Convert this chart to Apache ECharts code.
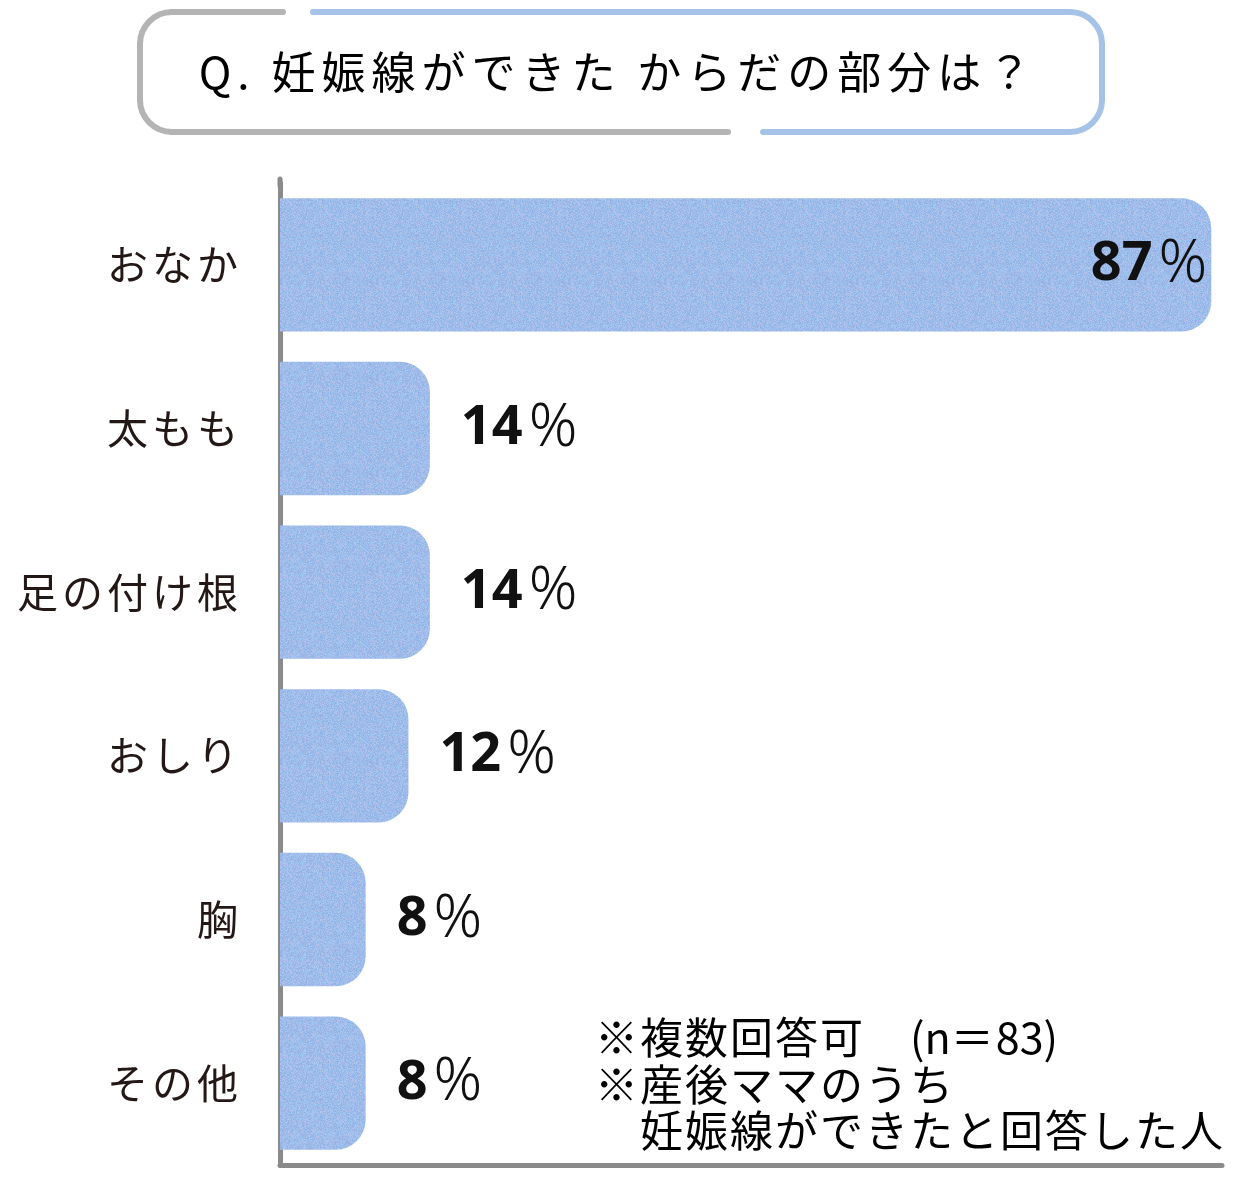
<!DOCTYPE html>
<html>
<head>
<meta charset="utf-8">
<script src="https://cdn.jsdelivr.net/npm/echarts@6/dist/echarts.min.js"></script>
<style>
  html, body { margin: 0; padding: 0; background: #fff; }
  #main { width: 1242px; height: 1180px; }
</style>
</head>
<body>
<div id="main"></div>
<script>
// data
var categories = ['おなか', '太もも', '足の付け根', 'おしり', '胸', 'その他'];
var values = [87, 14, 14, 12, 8, 8];
var titleText = 'Q. 妊娠線ができた からだの部分は？';
var noteLines = ['※複数回答可　(n＝83)', '※産後ママのうち', '　妊娠線ができたと回答した人'];

var ink = '#231815';
var jp = '"Noto Sans CJK JP", "Noto Sans", sans-serif';
var gray = '#b4b4b4';
var blue = '#a4c3e6';

// wraps every character in a rich token so padding works as letter spacing
// (ascii characters get the unpadded token "a")
function spaced(str) {
    return str.split('').map(function (ch) {
        return (ch.charCodeAt(0) < 128 ? '{a|' : '{s|') + ch + '}';
    }).join('');
}

// grainy fill for the bars (deterministic hash, just texture)
function makeGrain() {
    var c = document.createElement('canvas');
    c.width = 96; c.height = 96;
    var ctx = c.getContext('2d');
    var img = ctx.createImageData(96, 96);
    for (var i = 0; i < 96 * 96; i++) {
        var h = Math.sin(i * 12.9898 + 78.233) * 43758.5453;
        h = h - Math.floor(h);
        var h2 = Math.sin(i * 39.346 + 11.135) * 24634.6345;
        h2 = h2 - Math.floor(h2);
        var d = (h - 0.5) * 30;
        var t = (h2 - 0.5) * 24;
        img.data[i * 4] = 159 + d + t;
        img.data[i * 4 + 1] = 188 + d * 0.8 - t * 0.2;
        img.data[i * 4 + 2] = 234 + d * 0.4 - t * 0.3;
        img.data[i * 4 + 3] = 255;
    }
    ctx.putImageData(img, 0, 0);
    return c;
}
var grain = makeGrain();

function seg(x1, y1, x2, y2, col, w) {
    return { type: 'line', shape: { x1: x1, y1: y1, x2: x2, y2: y2 },
        style: { stroke: col, lineWidth: w || 6, lineCap: 'round' } };
}
function corner(cx, cy, a0, a1, col) {
    return { type: 'arc', shape: { cx: cx, cy: cy, r: 32, startAngle: a0, endAngle: a1, clockwise: true },
        style: { stroke: col, lineWidth: 6, fill: null } };
}
var PI = Math.PI;
var frame = [
    seg(172, 12, 283, 12, gray),
    corner(172, 44, PI, PI * 1.5, gray),
    seg(140, 44, 140, 100, gray),
    corner(172, 100, PI * 0.5, PI, gray),
    seg(172, 132, 728, 132, gray),
    seg(313, 12, 1070, 12, blue),
    corner(1070, 44, -PI * 0.5, 0, blue),
    seg(1102, 44, 1102, 100, blue),
    corner(1070, 100, 0, PI * 0.5, blue),
    seg(763, 132, 1070, 132, blue)
];

function noteText(y, str) {
    return {
        type: 'text', x: 595, y: y,
        style: {
            text: spaced(str), verticalAlign: 'middle',
            rich: {
                s: { fontSize: 43, fontFamily: jp, color: ink, padding: [0, 2, 0, 0] },
                a: { fontSize: 43, fontFamily: jp, color: ink }
            }
        }
    };
}

var myChart = echarts.init(document.getElementById('main'));

myChart.setOption({
    animation: false,
    backgroundColor: '#fff',
    grid: { left: 280, right: 20, top: 183, bottom: 15 },
    xAxis: {
        type: 'value',
        min: 0,
        max: 88,
        axisLine: { show: true, lineStyle: { color: '#8a8a8a', width: 5, cap: 'round' } },
        axisTick: { show: false },
        axisLabel: { show: false },
        splitLine: { show: false }
    },
    yAxis: {
        type: 'category',
        inverse: true,
        data: categories,
        axisLine: { show: true, onZero: false, lineStyle: { color: '#8a8a8a', width: 5, cap: 'round' } },
        axisTick: { show: false },
        axisLabel: {
            margin: 42,
            formatter: function (v) { return spaced(v); },
            rich: { s: { fontSize: 41, color: ink, fontFamily: jp, padding: [0, 0, 0, 4] } }
        }
    },
    series: [{
        type: 'bar',
        data: values.map(function (v, i) {
            return {
                value: v,
                label: i === 0 ? { position: 'insideRight', distance: 4 } : { position: 'right', distance: 31 }
            };
        }),
        barCategoryGap: '18.5%',
        itemStyle: {
            color: { image: grain, repeat: 'repeat' },
            borderRadius: [0, 30, 30, 0]
        },
        label: {
            show: true,
            formatter: function (p) { return '{n|' + p.value + '}{p|%}'; },
            rich: {
                n: { fontSize: 54, fontWeight: 'bold', color: '#111', fontFamily: '"Noto Sans", sans-serif' },
                p: { fontSize: 60, fontWeight: 300, color: '#111', fontFamily: '"Noto Sans", sans-serif', padding: [0, 0, 0, 6] }
            }
        }
    }],
    graphic: frame.concat([
        // the value axis line pokes a little above the plot in the original
        seg(280, 179, 280, 186, '#8a8a8a', 5),
        {
            type: 'text',
            x: 615, y: 72,
            style: {
                text: spaced(titleText),
                align: 'center',
                verticalAlign: 'middle',
                rich: {
                    s: { fontSize: 44, fontFamily: jp, color: ink, padding: [0, 3] },
                    a: { fontSize: 44, fontFamily: jp, color: ink, padding: [0, 3] }
                }
            }
        },
        noteText(1038, noteLines[0]),
        noteText(1085, noteLines[1]),
        noteText(1131, noteLines[2])
    ])
});
</script>
</body>
</html>
